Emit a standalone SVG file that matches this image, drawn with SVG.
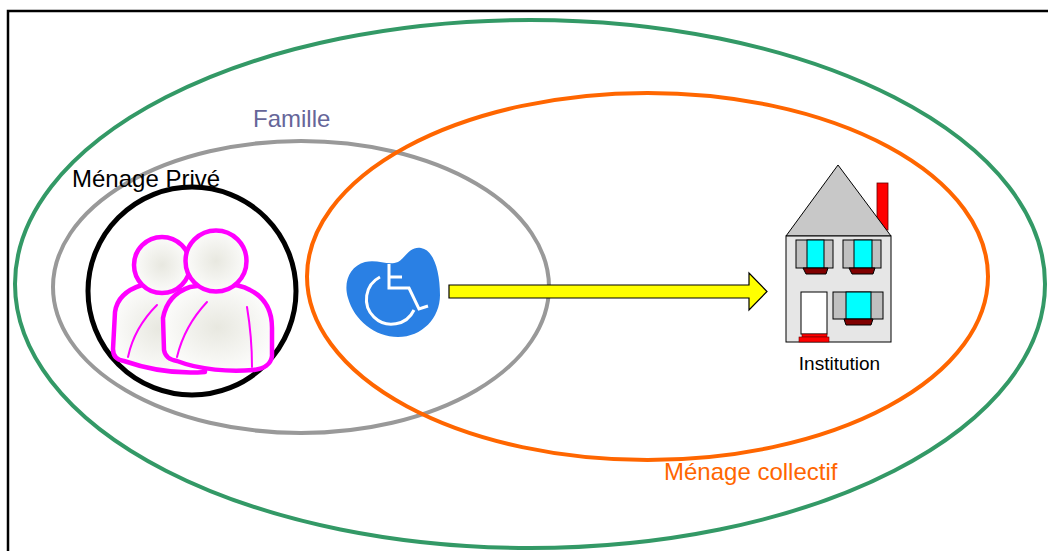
<svg xmlns="http://www.w3.org/2000/svg" width="1048" height="551" viewBox="0 0 1048 551">
<defs>
<style>
.lbl{font-family:"Liberation Sans",Arial,sans-serif;font-size:24px}
.ring{fill:none}
.pp{stroke:#FF00FF;stroke-width:4.5;fill:url(#pg);stroke-linejoin:round}
.arm{stroke:#FF00FF;stroke-width:2;fill:none;stroke-linecap:round}
.ol{stroke:#000;stroke-width:1}
.wc{stroke:#fff;stroke-width:3;fill:none}
</style>
<radialGradient id="pg" cx="0.5" cy="0.5" r="0.6">
<stop offset="0" stop-color="#E8E8E0"/>
<stop offset="1" stop-color="#FFFFFF"/>
</radialGradient>
</defs>
<rect x="8" y="11" width="1050" height="550" fill="#fff" stroke="#000" stroke-width="2.5"/>

<g id="sets">
<ellipse id="tous" class="ring" cx="530" cy="284" rx="515" ry="264" stroke="#339966" stroke-width="4"/>
<ellipse id="famille" class="ring" cx="301" cy="287" rx="248" ry="146" stroke="#999999" stroke-width="4"/>
<ellipse id="menage-collectif" class="ring" cx="647.5" cy="276.5" rx="340.5" ry="183.5" stroke="#FF6600" stroke-width="4"/>
<circle id="menage-prive" class="ring" cx="192" cy="291" r="104" stroke="#000" stroke-width="5"/>
</g>

<g id="labels">
<text class="lbl" x="253" y="127" fill="#666699">Famille</text>
<text class="lbl" x="72" y="187" fill="#000">Ménage Privé</text>
<text class="lbl" x="664" y="480" fill="#FF6600">Ménage collectif</text>
</g>

<g id="personnes">
<path class="pp" d="M142 285 C126 290 117 298 115 312 L113 349 C113 356 117 360 124 361 C150 370 180 374 205 372 L200 300 C185 290 165 283 142 285 Z"/>
<circle class="pp" cx="162" cy="265" r="28"/>
<path class="arm" d="M157 305 C142 320 132 338 128 357"/>
<path class="pp" d="M190 287 C175 292 166 302 163 318 L164 350 C165 356 170 360 177 361 C200 370 230 372 253 370 C264 369 271 364 272 356 L272 328 C272 310 264 297 250 290 C240 284 220 282 190 287 Z"/>
<circle class="pp" cx="216" cy="261" r="30.5"/>
<path class="arm" d="M207 302 C192 318 182 336 177 357"/>
<path class="arm" d="M247 307 C250 325 252 345 252 367"/>
</g>

<g id="handicap">
<path d="M365 262 C350 266 343 282 348 298 C354 320 375 337 398 337 C422 337 440 318 440 295 C440 272 434 250 421 248 C410 246 405 258 398 262 C388 266 378 259 365 262 Z" fill="#2A80E4"/>
<circle cx="386" cy="254" r="6.5" fill="#fff"/>
<path class="wc" d="M389 264 L389 288 L409 288 L419 309 L428 306 M389 277 L402 277"/>
<path class="wc" d="M380 277 A25 25 0 1 0 414 310"/>
</g>

<g id="connecteurs">
<path d="M449 285 L749 285 L749 273 L767 291.5 L749 310 L749 298 L449 298 Z" fill="#FFFF00" stroke="#000" stroke-width="1.2" stroke-linejoin="miter"/>
</g>

<g id="institution">
<rect x="877" y="183" width="11" height="47" fill="#FF0000" stroke="#600" stroke-width="0.8"/>
<path d="M838 165 L786 236 L891 236 Z" fill="#C8C8C8" class="ol"/>
<rect x="786" y="236" width="105" height="106" fill="#E6E6E6" class="ol"/>
<rect x="796" y="240" width="37" height="28" fill="#C0C0C0" class="ol"/>
<rect x="807" y="240" width="17" height="28" fill="#00FFFF" class="ol"/>
<path d="M803 268 L828 268 L826 274 L806 274 Z" fill="#800000" class="ol"/>
<rect x="843" y="240" width="38" height="28" fill="#C0C0C0" class="ol"/>
<rect x="854" y="240" width="18" height="28" fill="#00FFFF" class="ol"/>
<path d="M849 268 L875 268 L873 274 L852 274 Z" fill="#800000" class="ol"/>
<rect x="833" y="292" width="50" height="27" fill="#C0C0C0" class="ol"/>
<rect x="846" y="292" width="25" height="27" fill="#00FFFF" class="ol"/>
<path d="M844 319 L873 319 L871 325 L846 325 Z" fill="#800000" class="ol"/>
<rect x="801" y="292" width="26" height="42" fill="#FFFFFF" class="ol"/>
<rect x="802" y="334" width="25" height="3" fill="#FF0000" stroke="#600" stroke-width="0.6"/>
<rect x="799" y="337" width="30" height="5" fill="#FF0000" stroke="#600" stroke-width="0.6"/>
<text x="839.5" y="370" text-anchor="middle" style="font-family:'Liberation Sans',Arial,sans-serif;font-size:19px" fill="#000">Institution</text>
</g>
</svg>
